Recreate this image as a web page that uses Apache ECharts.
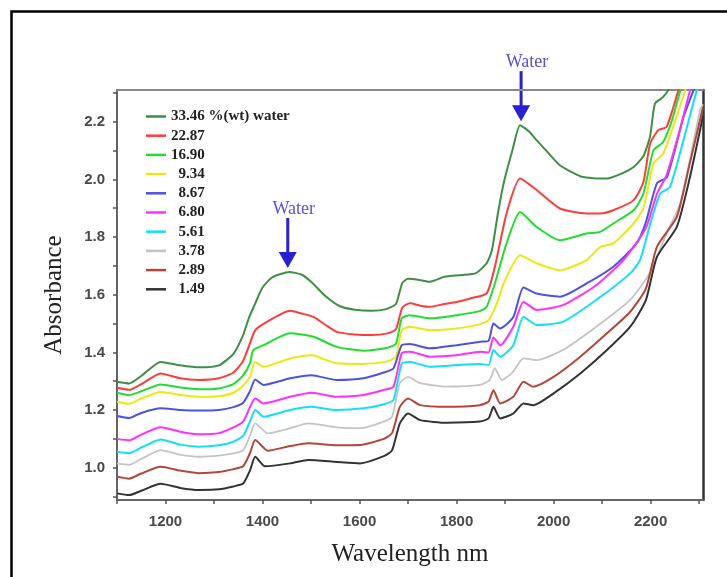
<!DOCTYPE html>
<html>
<head>
<meta charset="utf-8">
<script src="https://cdn.jsdelivr.net/npm/echarts@6/dist/echarts.min.js"></script>
<style>
html,body{margin:0;padding:0;background:#fff}
#chart{width:727px;height:577px}
</style>
</head>
<body>
<div id="chart"></div>
<script>
// 图例名称和颜色
var names = ['33.46 %(wt) water', '22.87', '16.90', '  9.34', '  8.67', '  6.80', '  5.61', '  3.78', '  2.89', '  1.49'];
var colors = ['#3f8f45', '#ff3c3c', '#20dd30', '#eaea10', '#5050e6', '#ff30ff', '#10e0f8', '#c4c4c4', '#b3473c', '#333333'];

// 每条曲线: 波长 / 吸光度
var wl3346 = [1100,1125,1150,1190,1230,1270,1310,1340,1360,1372,1385,1400,1420,1455,1480,1500,1530,1560,1590,1625,1655,1675,1688,1700,1720,1745,1775,1810,1840,1862,1873,1885,1897,1915,1931,1950,1965,1990,2013,2055,2090,2110,2140,2165,2185,2199,2209,2226,2240,2260];
var ab3346 = [1.298,1.292,1.318,1.367,1.355,1.348,1.355,1.395,1.46,1.52,1.57,1.625,1.66,1.679,1.67,1.645,1.595,1.56,1.548,1.544,1.55,1.568,1.64,1.655,1.652,1.645,1.662,1.668,1.675,1.709,1.755,1.88,1.986,2.10,2.188,2.165,2.136,2.09,2.049,2.011,2.003,2.003,2.02,2.043,2.08,2.15,2.263,2.286,2.32,2.40];

var wl2287 = [1100,1125,1150,1190,1230,1270,1310,1340,1360,1374,1385,1409,1457,1480,1505,1530,1553,1590,1625,1655,1675,1688,1704,1725,1745,1775,1800,1828,1862,1879,1903,1931,1965,2013,2068,2096,2123,2165,2185,2199,2216,2233,2257,2270];
var ab2287 = [1.277,1.27,1.29,1.327,1.31,1.304,1.31,1.33,1.37,1.431,1.477,1.506,1.544,1.535,1.523,1.495,1.471,1.462,1.46,1.465,1.48,1.555,1.57,1.562,1.558,1.568,1.575,1.587,1.605,1.697,1.882,2.003,1.963,1.899,1.882,1.882,1.893,1.928,1.99,2.124,2.171,2.182,2.307,2.38];

var wl1690 = [1100,1125,1150,1190,1230,1270,1310,1340,1360,1374,1381,1402,1457,1505,1553,1608,1655,1675,1687,1704,1745,1800,1849,1862,1879,1903,1931,1965,2013,2068,2096,2123,2165,2185,2206,2226,2244,2261,2275];
var ab1690 = [1.26,1.252,1.265,1.289,1.278,1.272,1.275,1.29,1.32,1.362,1.408,1.425,1.466,1.454,1.419,1.406,1.415,1.43,1.518,1.529,1.518,1.529,1.544,1.558,1.639,1.778,1.887,1.835,1.789,1.812,1.818,1.847,1.893,1.95,2.101,2.13,2.205,2.307,2.38];

var wl934 = [1100,1125,1150,1190,1230,1270,1310,1340,1360,1374,1385,1402,1457,1501,1553,1608,1655,1675,1687,1704,1745,1800,1849,1866,1883,1897,1931,1965,2013,2068,2096,2123,2165,2185,2206,2226,2251,2271,2285];
var ab934 = [1.229,1.222,1.24,1.263,1.252,1.246,1.248,1.26,1.285,1.315,1.367,1.35,1.379,1.39,1.362,1.36,1.368,1.385,1.477,1.489,1.477,1.483,1.498,1.512,1.57,1.639,1.737,1.709,1.685,1.72,1.766,1.778,1.847,1.90,2.055,2.09,2.205,2.307,2.38];

var wl867 = [1100,1125,1150,1190,1230,1270,1310,1340,1360,1374,1385,1402,1457,1501,1553,1608,1650,1670,1687,1704,1745,1800,1849,1866,1876,1890,1917,1938,1965,2013,2068,2123,2171,2190,2213,2234,2268,2288,2300];
var ab867 = [1.179,1.172,1.19,1.206,1.2,1.198,1.2,1.21,1.225,1.265,1.306,1.287,1.31,1.321,1.304,1.31,1.33,1.345,1.425,1.429,1.414,1.425,1.437,1.44,1.5,1.483,1.523,1.625,1.604,1.593,1.639,1.697,1.778,1.85,1.986,2.009,2.217,2.307,2.36];

var wl680 = [1100,1125,1150,1190,1230,1270,1310,1340,1360,1374,1385,1402,1457,1501,1553,1608,1650,1670,1687,1704,1745,1800,1849,1866,1876,1890,1917,1938,1965,2019,2088,2144,2190,2213,2233,2260,2281,2295];
var ab680 = [1.10,1.095,1.115,1.14,1.125,1.116,1.12,1.14,1.16,1.21,1.24,1.223,1.246,1.26,1.246,1.252,1.27,1.281,1.397,1.402,1.385,1.39,1.402,1.40,1.452,1.425,1.489,1.575,1.547,1.564,1.633,1.72,1.83,1.95,2.015,2.17,2.307,2.38];

var wl561 = [1100,1125,1150,1190,1230,1270,1310,1340,1360,1374,1385,1402,1457,1501,1553,1608,1650,1670,1687,1704,1745,1800,1849,1866,1876,1890,1917,1938,1965,2019,2088,2158,2178,2200,2220,2240,2270,2295,2308];
var ab561 = [1.055,1.05,1.07,1.098,1.08,1.073,1.078,1.09,1.11,1.16,1.2,1.177,1.2,1.211,1.2,1.206,1.22,1.235,1.362,1.367,1.35,1.356,1.36,1.356,1.408,1.385,1.425,1.523,1.495,1.506,1.582,1.674,1.72,1.85,1.951,1.974,2.15,2.307,2.36];

var wl378 = [1100,1125,1150,1190,1230,1270,1310,1340,1360,1374,1385,1411,1457,1494,1553,1601,1650,1667,1683,1700,1725,1780,1848,1868,1879,1893,1915,1938,1965,2019,2088,2158,2200,2233,2261,2302,2308];
var ab378 = [1.015,1.01,1.03,1.061,1.045,1.038,1.042,1.05,1.06,1.11,1.154,1.119,1.137,1.154,1.14,1.137,1.16,1.177,1.293,1.315,1.293,1.281,1.287,1.304,1.345,1.304,1.33,1.379,1.373,1.408,1.489,1.582,1.68,1.813,1.916,2.24,2.26];

var wl289 = [1100,1125,1150,1190,1230,1270,1310,1340,1360,1374,1385,1411,1457,1494,1553,1601,1650,1667,1683,1700,1725,1780,1848,1866,1876,1890,1917,1938,1958,2000,2055,2110,2158,2190,2213,2254,2280,2308];
var ab289 = [0.969,0.962,0.98,1.003,0.99,0.981,0.985,0.995,1.005,1.05,1.096,1.059,1.075,1.085,1.078,1.079,1.10,1.12,1.211,1.24,1.217,1.211,1.217,1.229,1.269,1.223,1.246,1.298,1.281,1.315,1.385,1.466,1.541,1.62,1.766,1.87,2.05,2.25];

var wl149 = [1100,1125,1150,1190,1230,1270,1310,1340,1360,1374,1385,1405,1457,1494,1553,1601,1650,1667,1683,1700,1725,1780,1848,1866,1876,1890,1917,1938,1958,2000,2055,2110,2158,2190,2213,2254,2280,2308];
var ab149 = [0.911,0.905,0.92,0.944,0.93,0.923,0.925,0.935,0.945,0.99,1.038,1.005,1.015,1.027,1.02,1.015,1.04,1.06,1.154,1.188,1.165,1.156,1.16,1.171,1.211,1.171,1.188,1.223,1.217,1.258,1.327,1.408,1.489,1.58,1.731,1.835,2.0,2.22];

// 刻度
var xTicks = [1100,1200,1300,1400,1500,1600,1700,1800,1900,2000,2100,2200,2300];
var xLabels = [1200,1400,1600,1800,2000,2200];
var yTicks = [0.9,1.0,1.1,1.2,1.3,1.4,1.5,1.6,1.7,1.8,1.9,2.0,2.1,2.2,2.3];
var yLabels = [1.0,1.2,1.4,1.6,1.8,2.0,2.2];

// 水峰标注 (波长, 峰值)
var waterPeaks = [[1452, 1.679], [1933, 2.188]];

var wls = [wl3346, wl2287, wl1690, wl934, wl867, wl680, wl561, wl378, wl289, wl149];
var abss = [ab3346, ab2287, ab1690, ab934, ab867, ab680, ab561, ab378, ab289, ab149];

var X_MIN = 1100, X_MAX = 2308, Y_MIN = 0.888, Y_MAX = 2.31;

var series = [];
for (var i = 0; i < names.length; i++) {
    var pts = [];
    for (var k = 0; k < wls[i].length; k++) {
        pts.push([wls[i][k], abss[i][k]]);
    }
    series.push({
        name: names[i],
        type: 'line',
        data: pts,
        symbol: 'none',
        smooth: 0.2,
        clip: true,
        xAxisIndex: 0,
        yAxisIndex: 0,
        lineStyle: {color: colors[i], width: i === 7 ? 1.8 : 2},
        itemStyle: {color: colors[i]}
    });
}

var tickFont = {fontFamily: 'Liberation Sans', fontSize: 15, fontWeight: 'bold', color: '#4a4a4a'};

var chart = echarts.init(document.getElementById('chart'));
var option = {
    animation: false,
    backgroundColor: '#fff',
    grid: {left: 117, top: 90, width: 586, height: 410, show: false},
    legend: {
        orient: 'vertical',
        left: 141,
        top: 104,
        icon: 'rect',
        itemWidth: 20,
        itemHeight: 2.5,
        itemGap: 4.2,
        textStyle: {fontFamily: 'Liberation Serif', fontWeight: 'bold', fontSize: 15, color: '#222', lineHeight: 15},
        data: names
    },
    xAxis: [{
        type: 'value', min: X_MIN, max: X_MAX, position: 'bottom',
        axisLine: {show: true, lineStyle: {color: '#666', width: 2}},
        axisTick: {show: true, inside: false, length: 4, customValues: xTicks, lineStyle: {color: '#555', width: 1.5}},
        axisLabel: {customValues: xLabels, margin: 14, fontFamily: tickFont.fontFamily, fontSize: tickFont.fontSize,
            fontWeight: tickFont.fontWeight, color: tickFont.color,
            formatter: function (v) { return String(v); }},
        splitLine: {show: false},
        name: 'Wavelength nm', nameLocation: 'middle', nameGap: 42,
        nameTextStyle: {fontFamily: 'Liberation Serif', fontSize: 25, color: '#222'}
    }, {
        type: 'value', min: X_MIN, max: X_MAX, position: 'top',
        axisLine: {show: true, lineStyle: {color: '#888', width: 2}},
        axisTick: {show: false}, axisLabel: {show: false}, splitLine: {show: false}
    }],
    yAxis: [{
        type: 'value', min: Y_MIN, max: Y_MAX, position: 'left',
        axisLine: {show: true, lineStyle: {color: '#666', width: 2}},
        axisTick: {show: true, inside: false, length: 4, customValues: yTicks, lineStyle: {color: '#555', width: 1.5}},
        axisLabel: {customValues: yLabels, margin: 12, fontFamily: tickFont.fontFamily, fontSize: tickFont.fontSize,
            fontWeight: tickFont.fontWeight, color: tickFont.color,
            formatter: function (v) { return v.toFixed(1); }},
        splitLine: {show: false},
        name: 'Absorbance', nameLocation: 'middle', nameGap: 50, nameRotate: 90,
        nameTextStyle: {fontFamily: 'Liberation Serif', fontSize: 25, color: '#222'}
    }, {
        type: 'value', min: Y_MIN, max: Y_MAX, position: 'right',
        axisLine: {show: true, lineStyle: {color: '#333', width: 2.5}},
        axisTick: {show: false}, axisLabel: {show: false}, splitLine: {show: false}
    }],
    series: series
};
chart.setOption(option);

// 水峰箭头: 按数据坐标换算位置
var elements = [{
    type: 'rect',
    shape: {x: 11.5, y: 11.5, width: 760, height: 640},
    style: {fill: 'none', stroke: '#000', lineWidth: 2.5},
    silent: true
}];
for (var j = 0; j < waterPeaks.length; j++) {
    var p = chart.convertToPixel({xAxisIndex: 0, yAxisIndex: 0}, waterPeaks[j]);
    var tip = p[1] - 4;
    elements.push({
        type: 'line',
        shape: {x1: p[0], y1: tip - 50, x2: p[0], y2: tip - 14},
        style: {stroke: '#2a1fd4', lineWidth: 3}
    });
    elements.push({
        type: 'polygon',
        shape: {points: [[p[0] - 9, tip - 16], [p[0] + 9, tip - 16], [p[0], tip]]},
        style: {fill: '#2a1fd4'}
    });
    elements.push({
        type: 'text',
        x: p[0] + 6,
        y: tip - 59,
        style: {text: 'Water', fill: '#5a52d6', font: '18px "Liberation Serif"', align: 'center', verticalAlign: 'middle'}
    });
}
chart.setOption({graphic: {elements: elements}});
</script>
</body>
</html>
